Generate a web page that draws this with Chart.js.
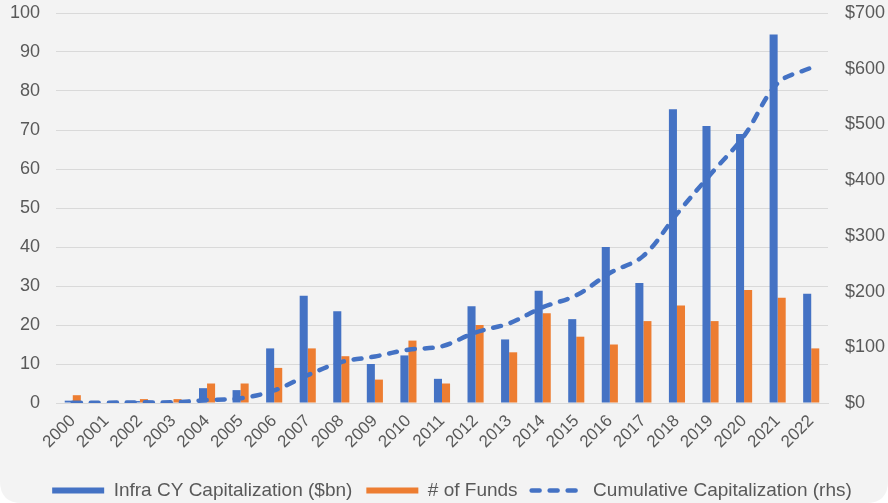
<!DOCTYPE html>
<html>
<head>
<meta charset="utf-8">
<script src="https://cdn.jsdelivr.net/npm/chart.js@4.4.1/dist/chart.umd.min.js"></script>
<style>
  html, body { margin: 0; padding: 0; background: #ffffff; }
  #wrap { width: 888px; height: 503px; }
</style>
</head>
<body>
<div id="wrap"><canvas id="infraChart" width="888" height="503"></canvas></div>
<script>
// values
const years = ['2000', '2001', '2002', '2003', '2004', '2005', '2006', '2007', '2008', '2009', '2010', '2011',
               '2012', '2013', '2014', '2015', '2016', '2017', '2018', '2019', '2020', '2021', '2022'];
const capitalization = [0.6, 0, 0.5, 0.3, 3.8, 3.3, 14, 27.5, 23.5, 10, 12.2, 6.2,
                        24.8, 16.3, 28.8, 21.5, 40, 30.8, 75.3, 71, 69, 94.5, 28];
const numFunds = [2, 0, 1, 1, 5, 5, 9, 14, 12, 6, 16, 5, 20, 13, 23, 17, 15, 21, 25, 21, 29, 27, 14];
const cumulative = [0.6, 0.6, 1.1, 1.4, 5.2, 8.5, 22.5, 50, 73.5, 83.5, 95.7, 101.9,
                    126.7, 143, 171.8, 193.3, 233.3, 264, 339.5, 410.5, 479.5, 574, 602];
const leftTicks = [0, 10, 20, 30, 40, 50, 60, 70, 80, 90, 100];
const rightTicks = [0, 100, 200, 300, 400, 500, 600, 700];

const BLUE = '#4472C4';
const ORANGE = '#ED7D31';
const TEXT = '#595959';
const GRID = '#d9d9d9';
const FONT = 'Liberation Sans, Arial, sans-serif';
const DASH = [8, 10];

// light grey card with rounded bottom corners
const cardBg = {
  id: 'cardBg',
  beforeDraw(chart) {
    const ctx = chart.ctx;
    const w = chart.width, h = chart.height, r = 22;
    ctx.save();
    ctx.fillStyle = '#f3f3f3';
    ctx.beginPath();
    ctx.moveTo(0, 0);
    ctx.lineTo(w, 0);
    ctx.lineTo(w, h - r);
    ctx.quadraticCurveTo(w, h, w - r, h);
    ctx.lineTo(r, h);
    ctx.quadraticCurveTo(0, h, 0, h - r);
    ctx.closePath();
    ctx.fill();
    ctx.restore();
  }
};

// legend sits a little right of centre in the original
const legendNudge = {
  id: 'legendNudge',
  afterLayout(chart) {
    chart.legend.left += 8;
    chart.legend.right += 8;
  }
};

// keep the plot top fixed, ignore tick padding
function fixPad(s, width) {
  s.width = width;
  s.paddingTop = 13;
  s.paddingBottom = 0;
}

const ctx = document.getElementById('infraChart').getContext('2d');

new Chart(ctx, {
  type: 'bar',
  data: {
    labels: years,
    datasets: [
      {
        label: 'Infra CY Capitalization ($bn)',
        data: capitalization,
        backgroundColor: BLUE,
        borderWidth: 0,
        yAxisID: 'y',
        categoryPercentage: 0.48,
        barPercentage: 1,
        order: 1
      },
      {
        label: '# of Funds',
        data: numFunds,
        backgroundColor: ORANGE,
        borderWidth: 0,
        yAxisID: 'y',
        categoryPercentage: 0.48,
        barPercentage: 1,
        order: 1
      },
      {
        type: 'line',
        label: 'Cumulative Capitalization (rhs)',
        data: cumulative,
        borderColor: BLUE,
        backgroundColor: BLUE,
        borderWidth: 4.5,
        borderDash: DASH,
        borderCapStyle: 'round',
        pointRadius: 0,
        tension: 0.35,
        fill: false,
        yAxisID: 'y1',
        order: 0
      }
    ]
  },
  options: {
    responsive: false,
    animation: false,
    layout: { padding: { top: 0, left: 0, right: 0, bottom: -7 } },
    plugins: {
      tooltip: { enabled: false },
      legend: {
        position: 'bottom',
        labels: {
          usePointStyle: true,
          pointStyleWidth: 52,
          boxHeight: 6,
          padding: 14,
          color: TEXT,
          font: { family: FONT, size: 19 },
          sort: (a, b) => a.datasetIndex - b.datasetIndex,
          generateLabels(chart) {
            const items = Chart.defaults.plugins.legend.labels.generateLabels(chart);
            items.forEach(it => {
              if (it.datasetIndex === 2) {
                it.pointStyle = 'line';
                it.lineDash = DASH;
                it.lineCap = 'round';
                it.lineWidth = 4.5;
                it.strokeStyle = BLUE;
              } else {
                it.pointStyle = 'rect';
                it.lineWidth = 0;
              }
            });
            return items;
          }
        }
      }
    },
    scales: {
      x: {
        afterFit: s => { s.height = 64; },
        grid: { display: false, drawTicks: false },
        border: { display: true, color: GRID, width: 1 },
        ticks: {
          color: TEXT,
          font: { family: FONT, size: 17 },
          minRotation: 45,
          maxRotation: 45,
          padding: 8,
          autoSkip: false
        }
      },
      y: {
        position: 'left',
        min: 0,
        max: 100,
        afterBuildTicks: s => { s.ticks = leftTicks.map(v => ({ value: v })); },
        afterFit: s => fixPad(s, 56),
        grid: { color: GRID, lineWidth: 1, drawTicks: false },
        border: { display: false },
        ticks: {
          color: TEXT,
          font: { family: FONT, size: 18 },
          padding: 16
        }
      },
      y1: {
        position: 'right',
        min: 0,
        max: 700,
        afterBuildTicks: s => { s.ticks = rightTicks.map(v => ({ value: v })); },
        afterFit: s => fixPad(s, 60),
        grid: { display: false, drawTicks: false },
        border: { display: false },
        ticks: {
          color: TEXT,
          font: { family: FONT, size: 18 },
          padding: 17,
          callback: v => '$' + v
        }
      }
    }
  },
  plugins: [cardBg, legendNudge]
});
</script>
</body>
</html>
